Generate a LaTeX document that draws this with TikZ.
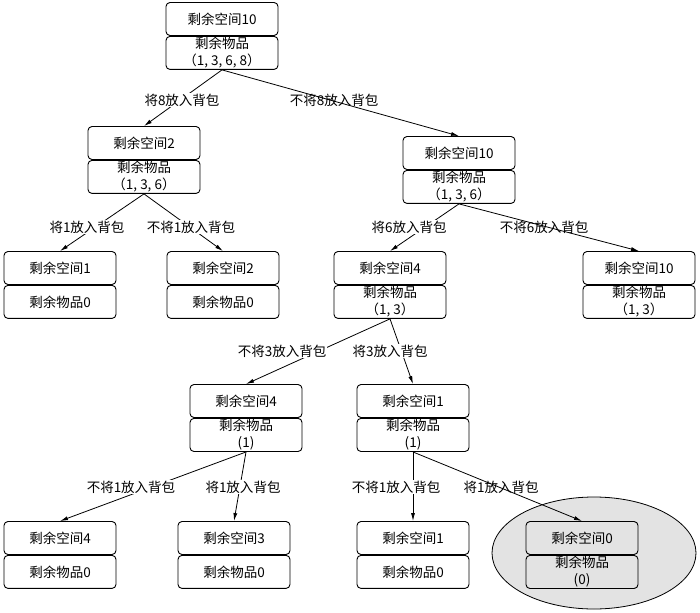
\documentclass[tikz,border=0pt]{standalone}
\usepackage{fontspec}
\newfontfamily\cjk{Noto Sans CJK SC}
\usetikzlibrary{arrows.meta, positioning, shapes.geometric, backgrounds}

\begin{document}
\begin{tikzpicture}[
    x=1bp, y=-1bp,
    cell/.style={rectangle, draw, rounded corners=4bp, line width=0.9bp, minimum width=112bp, minimum height=33bp, inner sep=1bp, align=center, font=\cjk\fontsize{13.5bp}{17bp}\selectfont},
    flow/.style={-{Latex[length=8bp, width=4bp]}, line width=0.8bp},
    tag/.style={font=\cjk\fontsize{13.5bp}{17bp}\selectfont, inner sep=1bp},
    cover/.style={tag, fill=white},
    goal/.style={ellipse, draw, line width=0.8bp, fill=gray!22, minimum width=204bp, minimum height=112bp}
]
\useasboundingbox (0,0) rectangle (700,613);

% Level 0
\node[cell] (r) at (222,19) {剩余空间10};
\node[cell, below=0pt of r] (r-i) {剩余物品\\（1, 3, 6, 8）};

% Level 1
\node[cell] (a) at (144,143) {剩余空间2};
\node[cell, below=0pt of a] (a-i) {剩余物品\\（1, 3, 6）};
\node[cell] (b) at (459,153) {剩余空间10};
\node[cell, below=0pt of b] (b-i) {剩余物品\\（1, 3, 6）};

% Level 2
\node[cell] (aa) at (60,268) {剩余空间1};
\node[cell, below=0pt of aa] (aa-i) {剩余物品0};
\node[cell] (ab) at (223,268) {剩余空间2};
\node[cell, below=0pt of ab] (ab-i) {剩余物品0};
\node[cell] (ba) at (390,268) {剩余空间4};
\node[cell, below=0pt of ba] (ba-i) {剩余物品\\（1, 3）};
\node[cell] (bb) at (639,268) {剩余空间10};
\node[cell, below=0pt of bb] (bb-i) {剩余物品\\（1, 3）};

% Level 3
\node[cell] (baa) at (246,401) {剩余空间4};
\node[cell, below=0pt of baa] (baa-i) {剩余物品\\(1)};
\node[cell] (bab) at (413,401) {剩余空间1};
\node[cell, below=0pt of bab] (bab-i) {剩余物品\\(1)};

% Level 4
\node[cell] (baaa) at (60,538) {剩余空间4};
\node[cell, below=0pt of baaa] (baaa-i) {剩余物品0};
\node[cell] (baab) at (234,538) {剩余空间3};
\node[cell, below=0pt of baab] (baab-i) {剩余物品0};
\node[cell] (baba) at (413,538) {剩余空间1};
\node[cell, below=0pt of baba] (baba-i) {剩余物品0};
\node[cell] (babb) at (582,538) {剩余空间0};
\node[cell, below=0pt of babb] (babb-i) {剩余物品\\(0)};

% Highlight of the solution
\begin{scope}[on background layer]
    \node[goal] (best) at (594,553) {};
\end{scope}

% Branches
\draw[flow] (r-i.south) -- (a.north);
\draw[flow] (r-i.south) -- (b.north);
\draw[flow] (a-i.south) -- (aa.north);
\draw[flow] (a-i.south) -- (ab.north);
\draw[flow] (b-i.south) -- (ba.north);
\draw[flow] (b-i.south) -- (bb.north);
\draw[flow] (ba-i.south) -- (baa.north);
\draw[flow] (ba-i.south) -- (bab.north);
\draw[flow] (baa-i.south) -- (baaa.north);
\draw[flow] (baa-i.south) -- (baab.north);
\draw[flow] (bab-i.south) -- (baba.north);
\draw[flow] (bab-i.south) -- (babb.north);

% Branch labels
\node[cover] (t-r1) at (182,100) {将8放入背包};
\node[tag] (t-r2) at (334,100) {不将8放入背包};
\node[cover] (t-a1) at (87,227) {将1放入背包};
\node[cover] (t-a2) at (191,227) {不将1放入背包};
\node[cover] (t-b1) at (409,227) {将6放入背包};
\node[tag] (t-b2) at (544,227) {不将6放入背包};
\node[cover] (t-ba1) at (282,351) {不将3放入背包};
\node[cover] (t-ba2) at (390,351) {将3放入背包};
\node[cover] (t-baa1) at (131,487) {不将1放入背包};
\node[cover] (t-baa2) at (243,487) {将1放入背包};
\node[cover] (t-bab1) at (396,487) {不将1放入背包};
\node[tag] (t-bab2) at (501,487) {将1放入背包};

\end{tikzpicture}
\end{document}
